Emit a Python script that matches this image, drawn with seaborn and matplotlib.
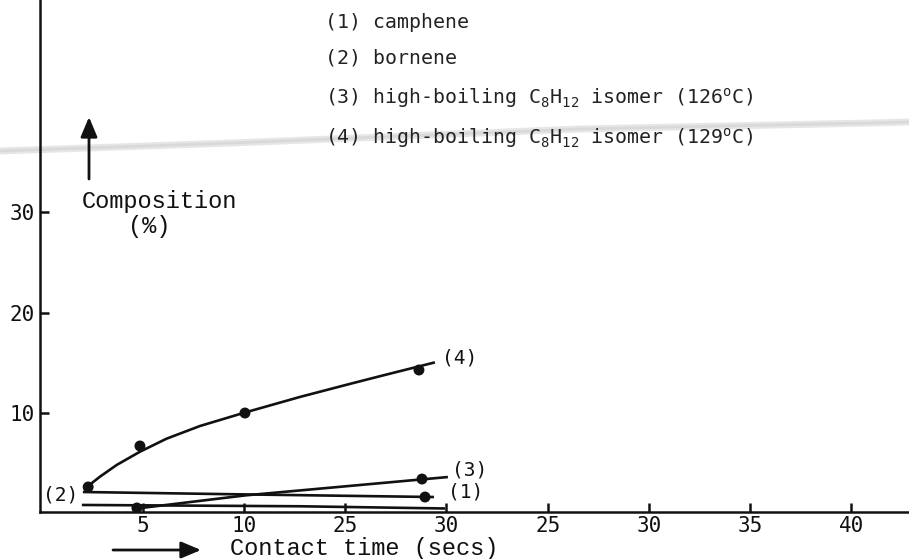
import matplotlib
matplotlib.use("Agg")
import matplotlib.pyplot as plt
import pandas as pd
import seaborn as sns
from matplotlib.lines import Line2D

# ---- data (contact time position on the axis, composition in %) ----
# (4) high-boiling C8H12 isomer (129 C): measured points and the curve drawn through them
iso129_time = [2.29, 4.85, 10.04, 18.64]
iso129_comp = [2.64, 6.72, 10.0, 14.28]
iso129_curve_time = [2.29, 2.87, 3.70, 4.85, 6.17, 7.82, 10.04, 12.76, 15.23, 16.88, 19.43]
iso129_curve_comp = [2.74, 3.66, 4.83, 6.15, 7.45, 8.71, 10.05, 11.6, 12.9, 13.75, 15.04]

# (3) high-boiling C8H12 isomer (126 C)
iso126_time = [4.70, 18.79]
iso126_comp = [0.55, 3.43]
iso126_curve_time = [4.50, 10.04, 20.07]
iso126_curve_comp = [0.45, 1.80, 3.63]

# (1) camphene
camphene_time = [18.94]
camphene_comp = [1.64]
camphene_curve_time = [2.03, 10.04, 19.38]
camphene_curve_comp = [2.14, 1.90, 1.64]

# (2) bornene
bornene_curve_time = [1.98, 12.76, 19.93]
bornene_curve_comp = [0.85, 0.72, 0.50]

x_tick_pos = [5, 10, 15, 20, 25, 30, 35, 40]
x_tick_labels = ["5", "10", "25", "30", "25", "30", "35", "40"]
y_tick_pos = [10, 20, 30]
y_tick_labels = ["10", "20", "30"]

legend_lines = [
    "(1) camphene",
    "(2) bornene",
    "(3) high-boiling C$_8$H$_{12}$ isomer (126$^o$C)",
    "(4) high-boiling C$_8$H$_{12}$ isomer (129$^o$C)",
]

# ---- styling ----
sns.set_theme(style="white")
plt.rcParams["font.family"] = ["DejaVu Sans Mono", "DejaVu Sans"]
plt.rcParams["mathtext.default"] = "regular"

W, H = 909, 559
fig = plt.figure(figsize=(W / 100, H / 100), dpi=100)
fig.patch.set_facecolor("white")

ax_left, ax_bottom = 40, 512  # pixel position of the axes origin
ax = fig.add_axes([ax_left / W, (H - ax_bottom) / H, 1 - ax_left / W, ax_bottom / H])
ax.patch.set_alpha(0)

ink = "#111111"
lw = 1.9

curves = pd.concat([
    pd.DataFrame({"t": iso129_curve_time, "c": iso129_curve_comp, "s": "4"}),
    pd.DataFrame({"t": iso126_curve_time, "c": iso126_curve_comp, "s": "3"}),
    pd.DataFrame({"t": camphene_curve_time, "c": camphene_curve_comp, "s": "1"}),
    pd.DataFrame({"t": bornene_curve_time, "c": bornene_curve_comp, "s": "2"}),
], ignore_index=True)

points = pd.concat([
    pd.DataFrame({"t": iso129_time, "c": iso129_comp, "s": "4"}),
    pd.DataFrame({"t": iso126_time, "c": iso126_comp, "s": "3"}),
    pd.DataFrame({"t": camphene_time, "c": camphene_comp, "s": "1"}),
], ignore_index=True)

pal = {"1": ink, "2": ink, "3": ink, "4": ink}
sns.lineplot(data=curves, x="t", y="c", hue="s", palette=pal, units="s",
             estimator=None, sort=False, linewidth=lw, legend=False, ax=ax,
             solid_capstyle="butt", solid_joinstyle="round")
sns.scatterplot(data=points, x="t", y="c", hue="s", palette=pal, s=62,
                edgecolor=ink, linewidth=0, legend=False, ax=ax, zorder=5)

# ---- axes ----
ax.set_xlim(-0.09, 42.86)
ax.set_ylim(0.15, 51.1)
ax.set_xticks(x_tick_pos)
ax.set_xticklabels(x_tick_labels)
ax.set_yticks(y_tick_pos)
ax.set_yticklabels(y_tick_labels)
ax.set_xlabel("")
ax.set_ylabel("")
for side in ("top", "right"):
    ax.spines[side].set_visible(False)
for side in ("left", "bottom"):
    ax.spines[side].set_color(ink)
    ax.spines[side].set_linewidth(1.8)
ax.tick_params(axis="both", direction="in", length=6.5, width=1.8,
               colors=ink, labelsize=15)
ax.tick_params(axis="y", pad=4)
ax.tick_params(axis="x", pad=3)
ax.tick_params(axis="both", which="both", left=True, bottom=True)

# ---- curve labels ----
lab_kw = dict(fontsize=14, color=ink, va="center")
ax.text(19.8, 15.5, "(4)", ha="left", **lab_kw)
ax.text(20.27, 4.33, "(3)", ha="left", **lab_kw)
ax.text(20.07, 2.14, "(1)", ha="left", **lab_kw)
ax.text(1.78, 1.84, "(2)", ha="right", **lab_kw)

# ---- key listing the four components ----
key_baselines = [28, 64, 104, 144]
for txt, yb in zip(legend_lines, key_baselines):
    fig.text(325 / W, 1 - yb / H, txt, fontsize=14.3, color="#222222",
             ha="left", va="baseline")

# ---- axis captions with arrows ----
cap_kw = dict(family=["Liberation Mono", "DejaVu Sans Mono"], fontsize=17, color=ink)
fig.text(82 / W, 1 - 208 / H, "Composition", ha="left", va="baseline", **cap_kw)
fig.text(128 / W, 1 - 233 / H, "(%)", ha="left", va="baseline", **cap_kw)
fig.text(230 / W, 1 - 555 / H, "Contact time (secs)", ha="left", va="baseline", **cap_kw)

arrow_kw = dict(arrowstyle="-|>,head_length=1.0,head_width=0.42", lw=2.0, color=ink,
                shrinkA=0, shrinkB=0)
ax.annotate("", xy=(89, H - 117), xytext=(89, H - 179), xycoords="figure pixels",
            textcoords="figure pixels", arrowprops=arrow_kw, annotation_clip=False)
ax.annotate("", xy=(201, H - 550), xytext=(113, H - 550), xycoords="figure pixels",
            textcoords="figure pixels", arrowprops=arrow_kw, annotation_clip=False)

# faint streak across the sheet (soft edge + slightly darker core)
streak_x = [0, 232, 580, 870, 909]
streak_y = [151, 143, 129, 123, 122]
sx = [x / W for x in streak_x]
sy = [1 - y / H for y in streak_y]
fig.add_artist(Line2D(sx, sy, transform=fig.transFigure, color="#e6e6e6",
                      lw=5, zorder=-2))
fig.add_artist(Line2D(sx, sy, transform=fig.transFigure, color="#d9d9d9",
                      lw=2, zorder=-1))

fig.savefig("out.png", dpi=100, facecolor="white")
